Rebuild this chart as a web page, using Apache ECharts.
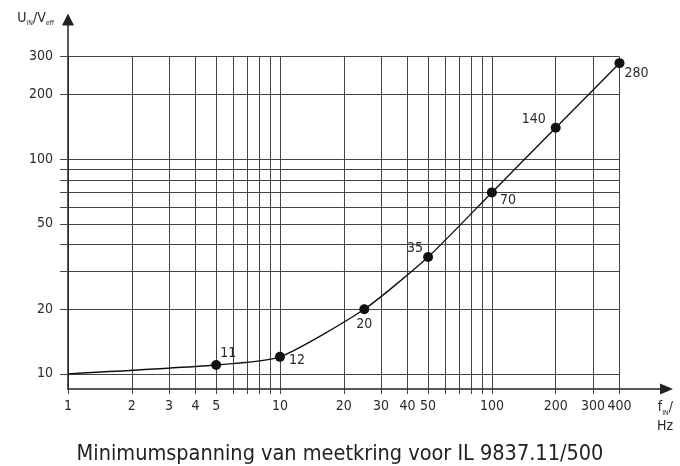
<!DOCTYPE html>
<html>
<head>
<meta charset="utf-8">
<script src="https://cdn.jsdelivr.net/npm/echarts@6/dist/echarts.min.js"></script>
<style>
  html, body { margin: 0; padding: 0; background: #fff; }
  #main { width: 680px; height: 466px; }
</style>
</head>
<body>
<div id="main"></div>
<script>
// meetpunten
const freqHz = [1, 5, 10, 25, 50, 100, 200, 400]
const uVeff = [10, 11, 12, 20, 35, 70, 140, 280]
const showMarker = [false, true, true, true, true, true, true, true]

// rasterlijnen en aslabels
const xGrid = [1, 2, 3, 4, 5, 6, 7, 8, 9, 10, 20, 30, 40, 50, 60, 70, 80, 90, 100, 200, 300, 400]
const xLabels = [1, 2, 3, 4, 5, 10, 20, 30, 40, 50, 100, 200, 300, 400]
const yGrid = [10, 20, 30, 40, 50, 60, 70, 80, 90, 100, 200, 300]
const yLabels = [10, 20, 50, 100, 200, 300]
const xRange = [1, 400]
const yRange = [8.5, 300]

const titleText = 'Minimumspanning van meetkring voor IL 9837.11/500'

// label offsets rond de punten (stijl, geen data)
const labelOffset = [[0, 0], [12, -12], [17, 4], [0, 15], [-13, -9], [16, 8], [-22, -8], [17, 10]]

const lg = v => Math.log10(v)
const font = 'DejaVu Sans Condensed'

const myChart = echarts.init(document.getElementById('main'))

const seriesData = freqHz.map((f, i) => ({
  value: [lg(f), lg(uVeff[i])],
  symbol: showMarker[i] ? 'circle' : 'none',
  label: {
    show: showMarker[i],
    position: 'inside',
    offset: labelOffset[i],
    formatter: String(uVeff[i])
  }
}))

const options = {
  animation: false,
  title: {
    text: titleText,
    left: 'center',
    top: 438,
    textStyle: {
      fontFamily: font,
      fontSize: 21.5,
      fontWeight: 'normal',
      color: '#222'
    }
  },
  grid: [
    { left: 68, right: 60.5, top: 56.7, bottom: 77 },
    { left: 68, right: 13.5, top: 19.5, bottom: 77 }
  ],
  xAxis: [
    {
      type: 'value',
      gridIndex: 0,
      min: lg(xRange[0]),
      max: lg(xRange[1]),
      axisLine: { show: false, onZero: false },
      axisTick: {
        show: true,
        length: 5,
        customValues: xGrid.map(lg),
        lineStyle: { color: '#444' }
      },
      axisLabel: {
        customValues: xLabels.map(lg),
        margin: 10,
        fontFamily: font,
        fontSize: 14,
        color: '#2a2a2a',
        formatter: v => String(Math.round(Math.pow(10, v)))
      },
      splitLine: { show: true, lineStyle: { color: '#444', width: 1 } }
    },
    {
      type: 'value',
      gridIndex: 1,
      min: 0,
      max: 1,
      name: 'f{sub|IN}/\nHz',
      nameLocation: 'end',
      nameGap: 6.5,
      nameTextStyle: {
        align: 'right',
        verticalAlign: 'top',
        padding: [9, 0, 0, 0],
        fontFamily: font,
        fontSize: 14,
        lineHeight: 19,
        color: '#2a2a2a',
        rich: {
          sub: { fontFamily: font, fontSize: 7, verticalAlign: 'bottom', color: '#2a2a2a' }
        }
      },
      axisLine: {
        show: true,
        onZero: false,
        symbol: ['none', 'triangle'],
        symbolSize: [11, 13],
        lineStyle: { color: '#222', width: 1.5 }
      },
      axisTick: { show: false },
      axisLabel: { show: false },
      splitLine: { show: false }
    }
  ],
  yAxis: [
    {
      type: 'value',
      gridIndex: 0,
      min: lg(yRange[0]),
      max: lg(yRange[1]),
      axisLine: { show: false, onZero: false },
      axisTick: {
        show: true,
        length: 8,
        customValues: yGrid.map(lg),
        lineStyle: { color: '#444' }
      },
      axisLabel: {
        customValues: yLabels.map(lg),
        margin: 15,
        fontFamily: font,
        fontSize: 14,
        color: '#2a2a2a',
        formatter: v => String(Math.round(Math.pow(10, v)))
      },
      splitLine: { show: true, lineStyle: { color: '#444', width: 1 } }
    },
    {
      type: 'value',
      gridIndex: 1,
      min: 0,
      max: 1,
      name: 'U{sub|IN}/V{sub|eff}',
      nameLocation: 'end',
      nameGap: 1,
      nameTextStyle: {
        align: 'right',
        verticalAlign: 'middle',
        padding: [0, 14, 0, 0],
        fontFamily: font,
        fontSize: 14,
        lineHeight: 17,
        color: '#2a2a2a',
        rich: {
          sub: { fontFamily: font, fontSize: 7, verticalAlign: 'bottom', color: '#2a2a2a' }
        }
      },
      axisLine: {
        show: true,
        onZero: false,
        symbol: ['none', 'triangle'],
        symbolSize: [12, 12],
        lineStyle: { color: '#222', width: 1.5 }
      },
      axisTick: { show: false },
      axisLabel: { show: false },
      splitLine: { show: false }
    }
  ],
  series: [
    {
      type: 'line',
      xAxisIndex: 0,
      yAxisIndex: 0,
      smooth: 0.2,
      symbolSize: 10,
      itemStyle: { color: '#111' },
      lineStyle: { color: '#111', width: 1.4 },
      label: {
        fontFamily: font,
        fontSize: 14,
        color: '#2a2a2a'
      },
      data: seriesData,
      z: 5
    }
  ]
}

myChart.setOption(options)
</script>
</body>
</html>
